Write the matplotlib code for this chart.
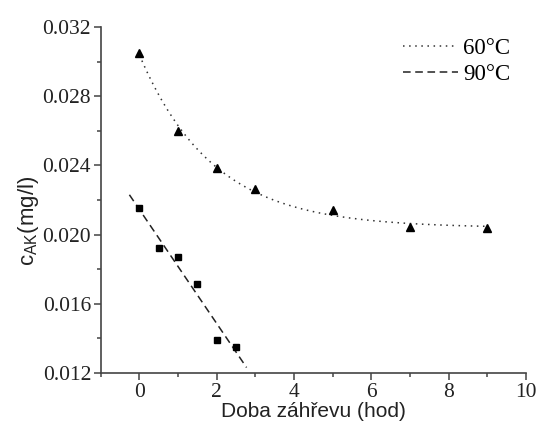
import numpy as np
import matplotlib.pyplot as plt
from matplotlib.ticker import MultipleLocator

# measured points
t60 = [0, 1, 2, 3, 5, 7, 9]
c60 = [0.03051, 0.02600, 0.02387, 0.02265, 0.02142, 0.02044, 0.02036]

t90 = [0, 0.5, 1, 1.5, 2, 2.5]
c90 = [0.02152, 0.01921, 0.01871, 0.01713, 0.01391, 0.01348]

# exponential decay fit for 60 C: c = y0 + A*exp(-t/tau)
x60 = np.array(t60)
y60 = np.array(c60)
best = None
for tau in np.linspace(0.3, 5, 500):
    M = np.column_stack([np.ones_like(x60, dtype=float), np.exp(-x60 / tau)])
    coef, res, _, _ = np.linalg.lstsq(M, y60, rcond=None)
    err = np.sum((M @ coef - y60) ** 2)
    if best is None or err < best[0]:
        best = (err, tau, coef)
_, tau, (y0, A) = best
xf60 = np.linspace(0, 9, 200)
yf60 = y0 + A * np.exp(-xf60 / tau)

# linear fit for 90 C
k, q = np.polyfit(t90, c90, 1)
xf90 = np.linspace(-0.26, 2.77, 50)
yf90 = k * xf90 + q

fig = plt.figure(figsize=(5.39, 4.30), dpi=100)
ax = fig.add_axes([0.187, 0.1326, 0.789, 0.8044])

ax.plot(xf60, yf60, color="#333333", linestyle=(0, (1, 3)), linewidth=1.1, label="60°C")
ax.plot(xf90, yf90, color="#222222", linestyle=(0, (5, 3)), linewidth=1.1, label="90°C")
ax.plot(t60, c60, "^", color="black", markersize=6, linestyle="none")
ax.plot(t90, c90, "s", color="black", markersize=4.5, linestyle="none")

ax.set_xlim(-1, 10)
ax.set_ylim(0.012, 0.032)
ax.xaxis.set_major_locator(MultipleLocator(2))
ax.xaxis.set_minor_locator(MultipleLocator(1))
ax.yaxis.set_major_locator(MultipleLocator(0.004))
ax.yaxis.set_minor_locator(MultipleLocator(0.002))
ax.set_yticklabels([f"{v:.3f}" for v in ax.get_yticks()])

for s in ["top", "right"]:
    ax.spines[s].set_visible(False)
for s in ["left", "bottom"]:
    ax.spines[s].set_color("#444444")
    ax.spines[s].set_linewidth(1.2)

ax.tick_params(which="major", direction="out", length=5, width=1.1, color="#444444",
               labelsize=15.5, pad=2)
ax.tick_params(which="minor", direction="out", length=3, width=1.1, color="#444444")
for lbl in ax.get_xticklabels() + ax.get_yticklabels():
    lbl.set_family("Liberation Serif")
    lbl.set_color("#222222")

ax.set_xlabel("Doba záhřevu (hod)", family="Liberation Sans", fontsize=15, color="#222222", labelpad=0)
ax.set_ylabel(r"c$_{\mathregular{AK}}$(mg/l)", family="Liberation Sans", fontsize=16, color="#222222")
ax.yaxis.set_label_coords(-0.17, 0.44)
ax.yaxis.label.set_va("center")

leg = ax.legend(loc="upper right", frameon=False, handlelength=2.4, handletextpad=0.25,
                prop={"family": "Liberation Serif", "size": 16.5}, labelspacing=0.2,
                bbox_to_anchor=(0.985, 0.995), borderaxespad=0)

fig.savefig("out.png", dpi=100)
